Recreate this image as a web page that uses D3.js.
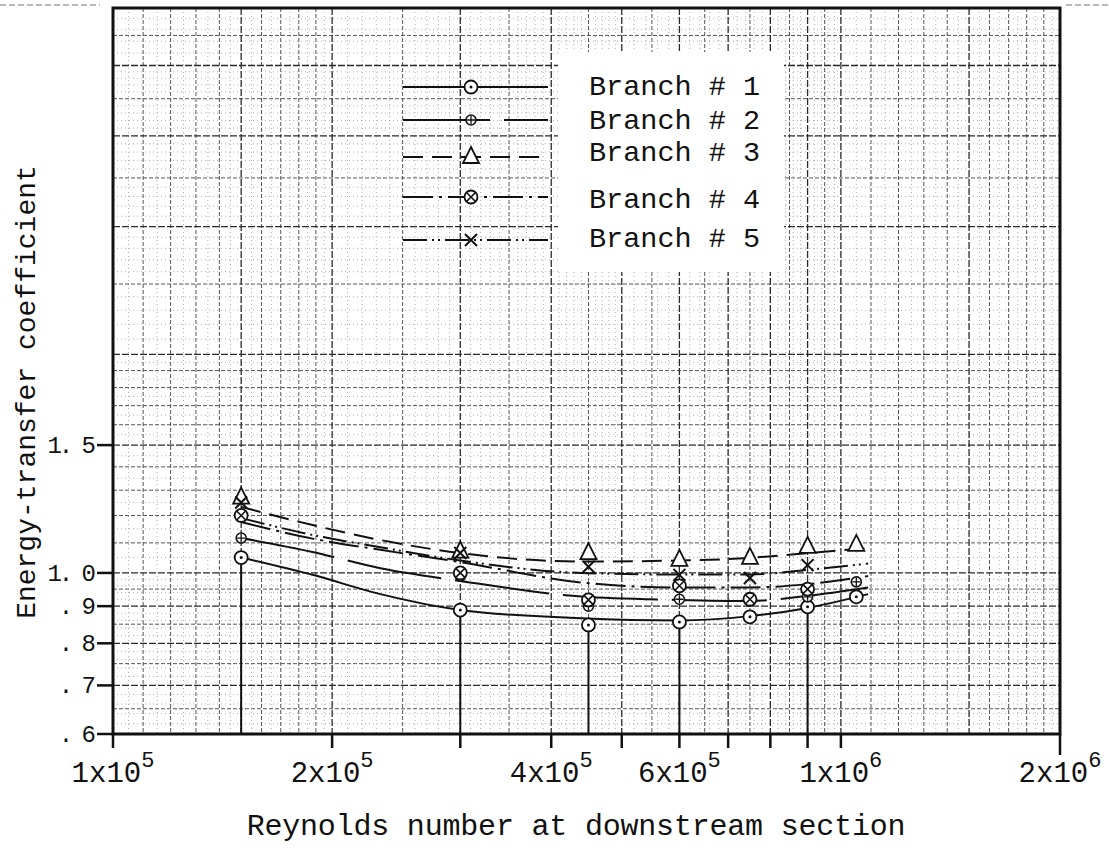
<!DOCTYPE html>
<html>
<head>
<meta charset="utf-8">
<script src="https://cdn.jsdelivr.net/npm/d3@7"></script>
<style>
body { margin: 0; background: #fff; }
svg { display: block; }
text { font-family: "Liberation Mono", "DejaVu Sans Mono", monospace; fill: #111; }
</style>
</head>
<body>
<div id="chart"></div>
<script>
// Reynolds numbers of the measured points
var reData = [1.5e5, 3e5, 4.5e5, 6e5, 7.5e5, 9e5, 1.05e6];

// Measured energy-transfer coefficients (null = no mark on the sheet)
var branch1Pts = [1.05, 0.889, 0.848, 0.856, 0.87, 0.898, 0.927];
var branch2Pts = [1.117, 0.99, 0.90, 0.92, 0.915, 0.927, 0.972];
var branch3Pts = [1.27, 1.07, 1.065, 1.042, 1.049, 1.086, 1.093];
var branch4Pts = [1.20, 1.0, 0.918, 0.96, 0.92, 0.95, null];
var branch5Pts = [1.25, 1.065, 1.02, 0.994, 0.984, 1.025, null];

// Hand-drawn fitted curves
var fitRe = [1.5e5, 1.88e5, 2.33e5, 3e5, 4.4e5, 6e5, 7.5e5, 9e5, 1.09e6];
var branch1Fit = [1.05, 0.994, 0.935, 0.889, 0.866, 0.86, 0.872, 0.895, 0.935];
var branch2Fit = [1.117, 1.069, 1.015, 0.975, 0.928, 0.918, 0.915, 0.93, 0.955];
var branch3Fit = [1.233, 1.164, 1.11, 1.065, 1.037, 1.04, 1.049, 1.065, 1.082];
var branch4Fit = [1.175, 1.115, 1.076, 1.035, 0.97, 0.955, 0.955, 0.965, 0.99];
var branch5Fit = [1.19, 1.128, 1.085, 1.04, 1.0, 0.995, 0.995, 1.01, 1.03];

// Heavy vertical lines dropped from the points to the axis
var dropRe = [1.5e5, 3e5, 4.5e5, 6e5, 9e5];

var branchNames = ["Branch # 1", "Branch # 2", "Branch # 3", "Branch # 4", "Branch # 5"];

// Axis ticks and labels
var yTickVals = [1.5, 1.0, 0.9, 0.8, 0.7, 0.6];
var yTickLabels = ["1. 5", "1. 0", ". 9", ". 8", ". 7", ". 6"];
var xTickMarks = [1e5, 2e5, 3e5, 4e5, 5e5, 6e5, 7e5, 8e5, 9e5, 1e6, 2e6];
var xLabelVals = [1e5, 2e5, 4e5, 6e5, 1e6, 2e6];
var xLabelMant = ["1x10", "2x10", "4x10", "6x10", "1x10", "2x10"];
var xLabelExp = ["5", "5", "5", "5", "6", "6"];

var width = 1109, height = 848;

var svg = d3.select("#chart").append("svg")
    .attr("width", width)
    .attr("height", height);

var x = d3.scaleLog().domain([1e5, 2e6]).range([113, 1060]);
var y = d3.scaleLog().domain([0.6, 6]).range([734, 8]);

// Log paper grid lines, split in three weights
function paperLines(bases, lo, hi) {
    var out = { major: [], mid: [], minor: [] };
    bases.forEach(function(b) {
        for (var k = 100; k < 1000; k += 5) {
            var v = b * k / 100;
            if (v <= lo * 1.0001 || v >= hi * 0.9999) continue;
            if (k % 100 === 0 || k === 150) out.major.push(v);
            else if ((k < 200 && k % 10 === 0) || k % 50 === 0) out.mid.push(v);
            else if ((k < 200 && k % 5 === 0) || (k < 500 && k % 10 === 0) || k % 20 === 0) out.minor.push(v);
        }
    });
    return out;
}

var gx = paperLines([1e5, 1e6], 1e5, 2e6);
var gy = paperLines([0.1, 1], 0.6, 6);

var grid = svg.append("g").attr("class", "grid");
var gridStyles = {
    minor: { color: "#9a9a9a", w: 0.8, dash: "1,3" },
    mid: { color: "#555", w: 1, dash: "4,2" },
    major: { color: "#2a2a2a", w: 1.3, dash: "7,2" }
};

["minor", "mid", "major"].forEach(function(tier) {
    var s = gridStyles[tier];
    grid.selectAll(".vx-" + tier)
        .data(gx[tier])
        .enter().append("line")
        .attr("x1", function(d) { return x(d); })
        .attr("x2", function(d) { return x(d); })
        .attr("y1", y(6)).attr("y2", y(0.6))
        .attr("stroke", s.color).attr("stroke-width", s.w)
        .attr("stroke-dasharray", s.dash);
    grid.selectAll(".hy-" + tier)
        .data(gy[tier])
        .enter().append("line")
        .attr("y1", function(d) { return y(d); })
        .attr("y2", function(d) { return y(d); })
        .attr("x1", x(1e5)).attr("x2", x(2e6))
        .attr("stroke", s.color).attr("stroke-width", s.w)
        .attr("stroke-dasharray", s.dash);
});

// White label box of the legend
svg.append("rect")
    .attr("x", 558).attr("y", 52)
    .attr("width", 226).attr("height", 220)
    .attr("fill", "#fff");

// Frame
svg.append("rect")
    .attr("x", x(1e5)).attr("y", y(6))
    .attr("width", x(2e6) - x(1e5))
    .attr("height", y(0.6) - y(6))
    .attr("fill", "none")
    .attr("stroke", "#111")
    .attr("stroke-width", 3);

// scan edge marks at the top
svg.append("line").attr("x1", 0).attr("x2", 100).attr("y1", 5).attr("y2", 5)
    .attr("stroke", "#777").attr("stroke-width", 1).attr("stroke-dasharray", "6,3");
svg.append("line").attr("x1", 1066).attr("x2", 1109).attr("y1", 5).attr("y2", 5)
    .attr("stroke", "#777").attr("stroke-width", 1).attr("stroke-dasharray", "6,3");

// Y ticks and labels
svg.selectAll(".ytick")
    .data(yTickVals)
    .enter().append("line")
    .attr("x1", 97).attr("x2", x(1e5))
    .attr("y1", function(d) { return y(d); })
    .attr("y2", function(d) { return y(d); })
    .attr("stroke", "#111").attr("stroke-width", 2.5);

svg.selectAll(".ylab")
    .data(yTickVals)
    .enter().append("text")
    .attr("x", 93)
    .attr("y", function(d) { return y(d) + 8; })
    .attr("text-anchor", "end")
    .attr("font-size", 24)
    .attr("letter-spacing", -3)
    .text(function(d, i) { return yTickLabels[i]; });

// X ticks and labels
svg.selectAll(".xtick")
    .data(xTickMarks)
    .enter().append("line")
    .attr("x1", function(d) { return x(d); })
    .attr("x2", function(d) { return x(d); })
    .attr("y1", y(0.6))
    .attr("y2", function(d) { return d === 2e6 ? y(0.6) + 21 : y(0.6) + 14; })
    .attr("stroke", "#111").attr("stroke-width", 2.5);

var xl = svg.selectAll(".xlab")
    .data(xLabelVals)
    .enter().append("text")
    .attr("x", function(d) { return x(d); })
    .attr("y", 782)
    .attr("text-anchor", "middle")
    .attr("font-size", 29);
xl.append("tspan").text(function(d, i) { return xLabelMant[i]; });
xl.append("tspan")
    .attr("font-size", 22)
    .attr("dy", -15)
    .text(function(d, i) { return xLabelExp[i]; });

// Axis titles
svg.append("text")
    .attr("x", 576).attr("y", 835)
    .attr("text-anchor", "middle")
    .attr("font-size", 30)
    .attr("letter-spacing", -0.2)
    .text("Reynolds number at downstream section");

svg.append("text")
    .attr("transform", "translate(35,392) rotate(-90)")
    .attr("text-anchor", "middle")
    .attr("font-size", 28)
    .text("Energy-transfer coefficient");

// Branch styles
var fits = [branch1Fit, branch2Fit, branch3Fit, branch4Fit, branch5Fit];
var pts = [branch1Pts, branch2Pts, branch3Pts, branch4Pts, branch5Pts];
var dashes = ["none", "95,14", "20,9", "30,6,3,6", "24,5,2,4,2,5"];
var markers = ["circleDot", "hatch", "triangle", "circleX", "cross"];

function drawMarker(g, type, cx, cy) {
    if (type === "circleDot") {
        g.append("circle").attr("cx", cx).attr("cy", cy).attr("r", 6.5)
            .attr("fill", "#fff").attr("stroke", "#111").attr("stroke-width", 1.8);
        g.append("circle").attr("cx", cx).attr("cy", cy).attr("r", 1.5).attr("fill", "#111");
    } else if (type === "hatch") {
        g.append("circle").attr("cx", cx).attr("cy", cy).attr("r", 5)
            .attr("fill", "#fff").attr("stroke", "#111").attr("stroke-width", 1.6);
        g.append("path")
            .attr("d", "M" + (cx - 4) + "," + cy + "H" + (cx + 4) + "M" + cx + "," + (cy - 4) + "V" + (cy + 4))
            .attr("stroke", "#111").attr("stroke-width", 1.3);
    } else if (type === "triangle") {
        g.append("path")
            .attr("d", "M" + cx + "," + (cy - 10) + "L" + (cx + 8) + "," + (cy + 6) + "L" + (cx - 8) + "," + (cy + 6) + "Z")
            .attr("fill", "#fff").attr("stroke", "#111").attr("stroke-width", 1.8);
    } else if (type === "circleX") {
        g.append("circle").attr("cx", cx).attr("cy", cy).attr("r", 6.5)
            .attr("fill", "#fff").attr("stroke", "#111").attr("stroke-width", 1.8);
        g.append("path")
            .attr("d", "M" + (cx - 4.5) + "," + (cy - 4.5) + "L" + (cx + 4.5) + "," + (cy + 4.5) + "M" + (cx + 4.5) + "," + (cy - 4.5) + "L" + (cx - 4.5) + "," + (cy + 4.5))
            .attr("stroke", "#111").attr("stroke-width", 1.6);
    } else {
        g.append("path")
            .attr("d", "M" + (cx - 6) + "," + (cy - 6) + "L" + (cx + 6) + "," + (cy + 6) + "M" + (cx + 6) + "," + (cy - 6) + "L" + (cx - 6) + "," + (cy + 6))
            .attr("stroke", "#111").attr("stroke-width", 2);
    }
}

// Drop lines
svg.selectAll(".drop")
    .data(dropRe)
    .enter().append("line")
    .attr("x1", function(d) { return x(d); })
    .attr("x2", function(d) { return x(d); })
    .attr("y1", function(d) {
        var i = reData.indexOf(d);
        var lo = d3.min(pts, function(p) { return p[i]; });
        return y(lo);
    })
    .attr("y2", y(0.6))
    .attr("stroke", "#111").attr("stroke-width", 2);

// Fitted curves
var line = d3.line()
    .x(function(d) { return x(d[0]); })
    .y(function(d) { return y(d[1]); })
    .curve(d3.curveMonotoneX);

fits.forEach(function(f, i) {
    svg.append("path")
        .datum(fitRe.map(function(r, j) { return [r, f[j]]; }))
        .attr("d", line)
        .attr("fill", "none")
        .attr("stroke", "#111")
        .attr("stroke-width", 2)
        .attr("stroke-dasharray", dashes[i]);
});

// Point markers
var mk = svg.append("g").attr("class", "markers");
pts.forEach(function(p, i) {
    p.forEach(function(v, j) {
        if (v == null) return;
        drawMarker(mk, markers[i], x(reData[j]), y(v));
    });
});

// Legend
var legY = [87, 120, 157, 197, 240];
var legTextY = [95, 129, 161, 208, 247];
var leg = svg.append("g").attr("class", "legend");
branchNames.forEach(function(name, i) {
    leg.append("line")
        .attr("x1", 403).attr("x2", 548)
        .attr("y1", legY[i]).attr("y2", legY[i])
        .attr("stroke", "#111").attr("stroke-width", 2.2)
        .attr("stroke-dasharray", i === 1 ? "87,14" : dashes[i]);
    drawMarker(leg, markers[i], 471, legY[i]);
    leg.append("text")
        .attr("x", 589).attr("y", legTextY[i])
        .attr("font-size", 28.5)
        .text(name);
});
</script>
</body>
</html>
